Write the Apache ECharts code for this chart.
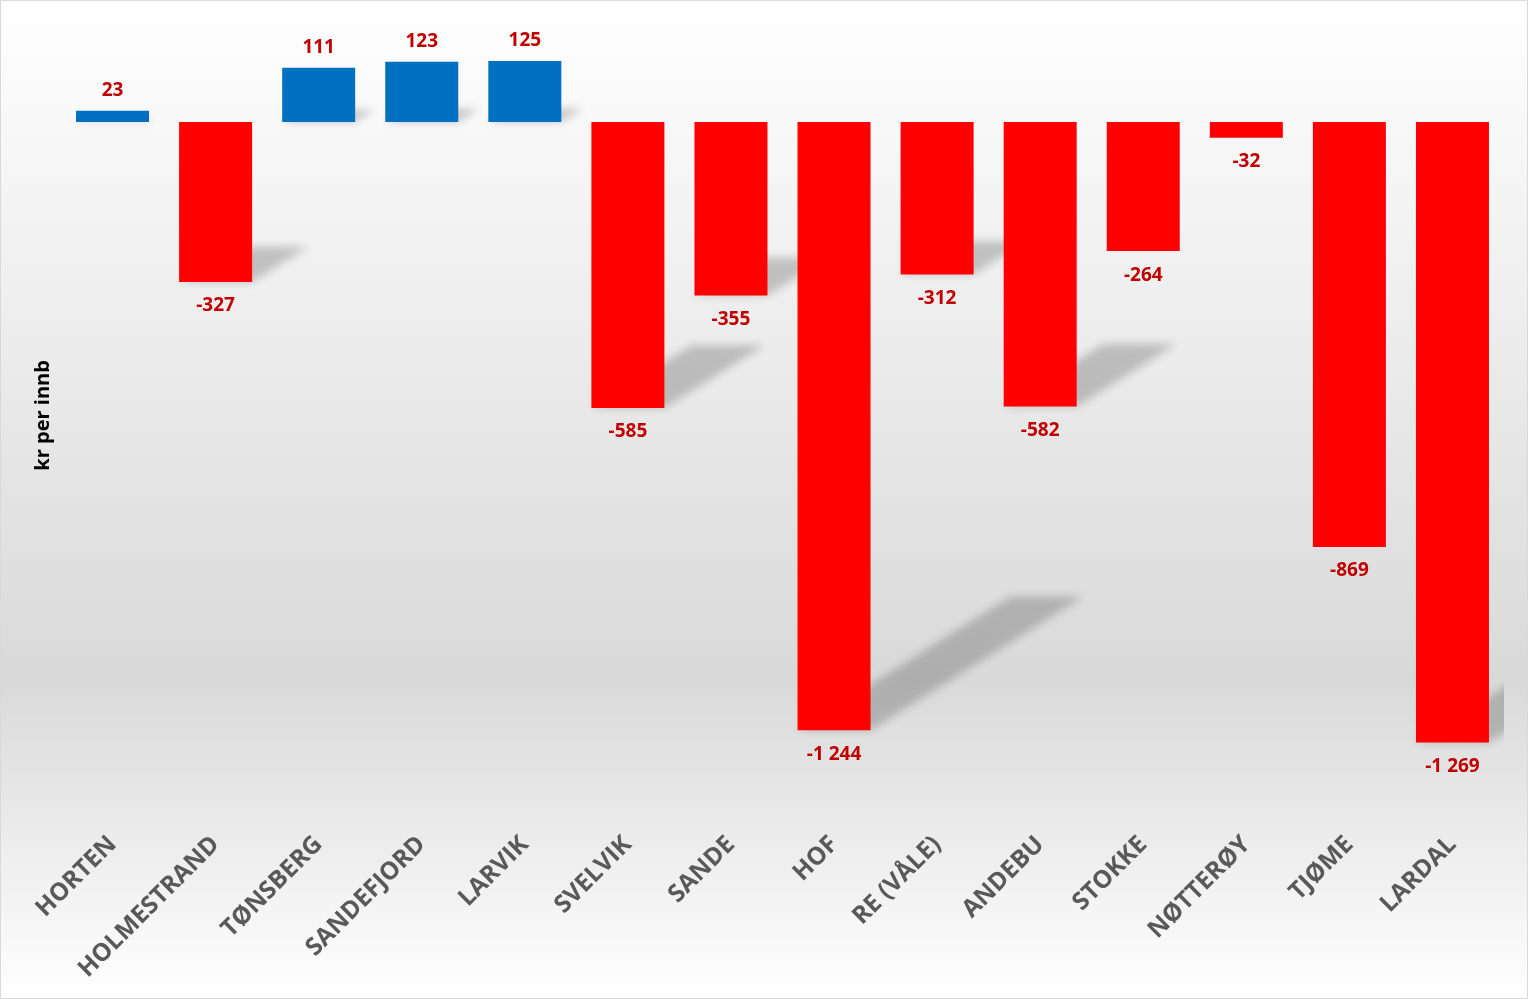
<!DOCTYPE html>
<html>
<head>
<meta charset="utf-8">
<script src="https://cdn.jsdelivr.net/npm/echarts@6/dist/echarts.min.js"></script>
<style>
html,body{margin:0;padding:0;background:#fff;}
#c{width:1528px;height:999px;}
</style>
</head>
<body>
<div id="c"></div>
<script>
var categories = ['HORTEN','HOLMESTRAND','TØNSBERG','SANDEFJORD','LARVIK','SVELVIK','SANDE','HOF','RE (VÅLE)','ANDEBU','STOKKE','NØTTERØY','TJØME','LARDAL'];
var values = [23, -327, 111, 123, 125, -585, -355, -1244, -312, -582, -264, -32, -869, -1269];
var axisTitle = 'kr per innb';

var FONT = '"Open Sans", "Liberation Sans", sans-serif';
var BAR_W = 73;
// bars whose perspective shadow is not visible in the original picture (style only)
var NO_SHADOW = {'STOKKE': 1, 'NØTTERØY': 1, 'TJØME': 1};

function fmt(v){
  var s = String(Math.abs(v)).replace(/\B(?=(\d{3})+(?!\d))/g, ' ');
  return (v < 0 ? '-' : '') + s;
}

var barData = values.map(function(v){
  return {
    value: v,
    itemStyle: { color: v >= 0 ? '#0070C0' : '#FF0000' },
    label: { position: v >= 0 ? 'top' : 'bottom', distance: v >= 0 ? 11 : 14.5 }
  };
});

var shadowData = values.map(function(v, i){ return [i, v]; });

var chart = echarts.init(document.getElementById('c'), null, {renderer:'canvas'});
chart.setOption({
  animation: false,
  backgroundColor: {
    type: 'linear', x: 0, y: 0, x2: 0, y2: 1,
    colorStops: [
      {offset: 0, color: '#ffffff'},
      {offset: 0.68, color: '#d9d9d9'},
      {offset: 1, color: '#ffffff'}
    ]
  },
  graphic: [{
    type: 'rect', silent: true, z: 100,
    shape: {x: 0.5, y: 0.5, width: 1527, height: 998},
    style: {fill: 'none', stroke: '#d9d9d9', lineWidth: 1}
  }],
  grid: {left: 61, right: 24, top: 24.2, bottom: 192.4, containLabel: false},
  xAxis: {
    type: 'category',
    data: categories,
    axisLine: {show: false},
    axisTick: {show: false},
    axisLabel: {
      interval: 0, rotate: 45, margin: 34,
      color: '#595959', fontFamily: FONT, fontWeight: 'bold', fontSize: 24.5
    }
  },
  yAxis: {
    type: 'value',
    min: -1400, max: 200,
    axisLine: {show: false},
    axisTick: {show: false},
    axisLabel: {show: false},
    splitLine: {show: false},
    name: axisTitle,
    nameLocation: 'middle',
    nameRotate: 90,
    nameGap: 8,
    nameTextStyle: {color: '#000000', fontFamily: FONT, fontWeight: 'bold', fontSize: 20}
  },
  series: [
    {
      type: 'custom',
      z: 1,
      silent: true,
      data: shadowData,
      renderItem: function(params, api){
        var i = api.value(0), v = api.value(1);
        if (NO_SHADOW[categories[i]]) return null;
        var base = api.coord([i, 0]);
        var end = api.coord([i, v]);
        var h = Math.abs(end[1] - base[1]);
        var yb = Math.max(base[1], end[1]);
        var OFF = 4000;
        var xl = base[0] - BAR_W/2 + OFF, xr = base[0] + BAR_W/2 + OFF;
        var dx = 0.35*h, dy = 0.22*h;
        var cs = params.coordSys;
        return {
          type: 'polygon',
          shape: {points: [[xl, yb], [xr, yb], [xr+dx, yb-dy], [xl+dx, yb-dy]]},
          style: {fill: '#000', shadowBlur: 9, shadowColor: 'rgba(0,0,0,0.2)', shadowOffsetX: -OFF, shadowOffsetY: 0},
          clipPath: {type: 'rect', shape: {x: cs.x, y: cs.y - 30, width: cs.width, height: cs.height + 60}}
        };
      }
    },
    {
      type: 'bar',
      z: 2,
      data: barData,
      barWidth: BAR_W,
      label: {
        show: true,
        color: '#C00000',
        fontFamily: FONT,
        fontWeight: 'bold',
        fontSize: 19,
        formatter: function(p){ return fmt(p.value); }
      }
    }
  ]
});
</script>
</body>
</html>
